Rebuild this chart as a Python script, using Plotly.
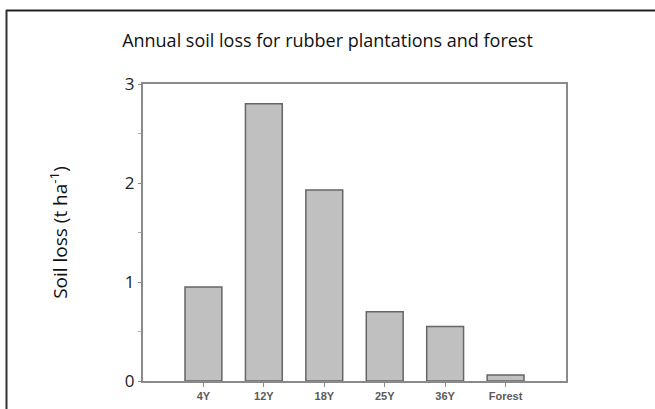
import plotly.graph_objects as go

categories = ["4Y", "12Y", "18Y", "25Y", "36Y", "Forest"]
soil_loss = [0.95, 2.80, 1.93, 0.70, 0.55, 0.06]
y_ticks = [0, 1, 2, 3]

fig = go.Figure()
fig.add_trace(go.Bar(
    x=categories, y=soil_loss, width=0.61,
    marker=dict(color="#c0c0c0", line=dict(color="#666666", width=1.5)),
))

W, H = 655, 409
L, R, T, B = 143, 89, 84, 28
pw, ph = W - L - R, H - T - B

def px(x):
    return (x - L) / pw

def py(y):
    return (H - B - y) / ph

fig.update_layout(
    width=W, height=H,
    margin=dict(l=L, r=R, t=T, b=B, autoexpand=False),
    paper_bgcolor="white", plot_bgcolor="white",
    showlegend=False,
    title=dict(text="Annual soil loss for rubber plantations and forest",
               x=0.5, xanchor="center", y=1 - 41 / H, yanchor="middle",
               font=dict(family="Open Sans", size=18, color="#111111")),
    font=dict(family="Open Sans", color="#222222"),
    xaxis=dict(range=[-1, 6], showgrid=False, showline=True, linecolor="#8a8a8a",
               linewidth=2, mirror=True, ticks="outside", ticklen=4, tickwidth=1,
               tickcolor="#8a8a8a", automargin=False,
               tickfont=dict(family="Arial", size=11, color="#5a5a5a", weight="bold")),
    yaxis=dict(range=[0, 3], tickvals=y_ticks, showgrid=False, showline=True,
               linecolor="#8a8a8a", linewidth=2, mirror=True, zeroline=False,
               ticks="outside", ticklen=3, tickcolor="#8a8a8a", automargin=False,
               minor=dict(dtick=0.5, ticks="outside", ticklen=3, tickcolor="#aaaaaa"),
               tickfont=dict(family="Open Sans", size=17, color="#222222"),
               title=dict(text="Soil loss (t ha<sup>-1</sup>)", standoff=52,
                          font=dict(family="Open Sans", size=19, color="#111111"))),
    shapes=[
        dict(type="line", xref="paper", yref="paper", x0=px(6), x1=px(660),
             y0=py(10.5), y1=py(10.5), line=dict(color="#222222", width=2)),
        dict(type="line", xref="paper", yref="paper", x0=px(6.5), x1=px(6.5),
             y0=py(10), y1=py(412), line=dict(color="#333333", width=2)),
    ],
)

fig.write_html("out.html", config={"displayModeBar": False},
               post_script="document.body.style.margin='0';document.body.style.overflow='hidden';")
